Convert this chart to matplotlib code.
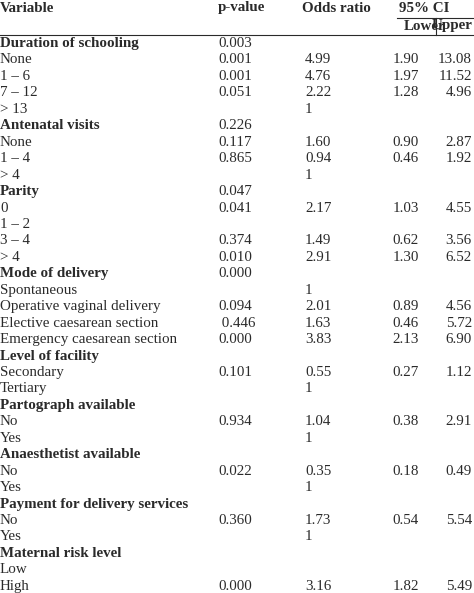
import matplotlib.pyplot as plt

W, H = 474, 593

# table contents: (label, is_heading, p, odds, lower, upper)
labels = ["Duration of schooling", "None", "1 – 6", "7 – 12", "> 13",
          "Antenatal visits", "None", "1 – 4", "> 4",
          "Parity", "0", "1 – 2", "3 – 4", "> 4",
          "Mode of delivery", "Spontaneous", "Operative vaginal delivery",
          "Elective caesarean section", "Emergency caesarean section",
          "Level of facility", "Secondary", "Tertiary",
          "Partograph available", "No", "Yes",
          "Anaesthetist available", "No", "Yes",
          "Payment for delivery services", "No", "Yes",
          "Maternal risk level", "Low", "High"]
heading = [1, 0, 0, 0, 0, 1, 0, 0, 0, 1, 0, 0, 0, 0, 1, 0, 0, 0, 0,
           1, 0, 0, 1, 0, 0, 1, 0, 0, 1, 0, 0, 1, 0, 0]
p_values = ["0.003", "0.001", "0.001", "0.051", "", "0.226", "0.117", "0.865", "",
            "0.047", "0.041", "", "0.374", "0.010", "0.000", "", "0.094", " 0.446", "0.000",
            "", "0.101", "", "", "0.934", "", "", "0.022", "", "", "0.360", "", "", "", "0.000"]
odds = ["", "4.99", "4.76", "2.22", "1", "", "1.60", "0.94", "1",
        "", "2.17", "", "1.49", "2.91", "", "1", "2.01", "1.63", "3.83",
        "", "0.55", "1", "", "1.04", "1", "", "0.35", "1", "", "1.73", "1", "", "", "3.16"]
lower = ["", "1.90", "1.97", "1.28", "", "", "0.90", "0.46", "",
         "", "1.03", "", "0.62", "1.30", "", "", "0.89", "0.46", "2.13",
         "", "0.27", "", "", "0.38", "", "", "0.18", "", "", "0.54", "", "", "", "1.82"]
upper = ["", "13.08", "11.52", "4.96", "", "", "2.87", "1.92", "",
         "", "4.55", "", "3.56", "6.52", "", "", "4.56", "5.72", "6.90",
         "", "1.12", "", "", "2.91", "", "", "0.49", "", "", "5.54", "", "", "", "5.49"]

plt.rcParams['font.family'] = ['Liberation Serif', 'DejaVu Serif']
fig = plt.figure(figsize=(W / 100, H / 100), dpi=100)
ax = fig.add_axes([0, 0, 1, 1])
ax.set_xlim(0, W)
ax.set_ylim(H, 0)
ax.axis('off')

fs = 10.8
c = '#2a2a2a'
ax.text(0, 8, "Variable", fontsize=fs, fontweight='bold', va='center', color=c)
ax.text(218, 8, "p-value", fontsize=fs, fontweight='bold', va='center', color=c)
ax.text(302, 8, "Odds ratio", fontsize=fs, fontweight='bold', va='center', color=c)
ax.text(399, 8, "95% CI", fontsize=fs, fontweight='bold', va='center', color=c)
ax.text(404, 26, "Lower", fontsize=fs, fontweight='bold', va='center', color=c)
ax.text(472, 26, "Upper", fontsize=fs, fontweight='bold', va='center', ha='right', color=c)
ax.plot([397, W], [17.5, 17.5], color=c, lw=0.8)
ax.plot([0, W], [35, 35], color=c, lw=0.8)
ax.plot([436, 436], [17.5, 35], color=c, lw=0.8)

y0, step = 43.5, 16.45
for i, lab in enumerate(labels):
    y = y0 + i * step
    ax.text(0, y, lab, fontsize=fs, va='center', color=c,
            fontweight='bold' if heading[i] else 'normal')
    ax.text(218, y, p_values[i], fontsize=fs, va='center', color=c)
    ax.text(305, y, odds[i], fontsize=fs, va='center', color=c)
    ax.text(419, y, lower[i], fontsize=fs, va='center', ha='right', color=c)
    ax.text(472, y, upper[i], fontsize=fs, va='center', ha='right', color=c)

fig.savefig('out.png', dpi=100)
